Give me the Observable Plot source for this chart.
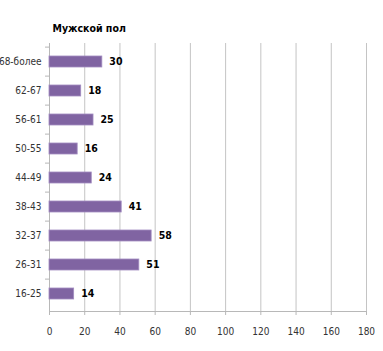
<!DOCTYPE html>
<html><head><meta charset="utf-8">
<script src="https://cdn.jsdelivr.net/npm/d3@7"></script>
<script src="https://cdn.jsdelivr.net/npm/@observablehq/plot@0.6"></script>
<style>
body{margin:0;background:#fff;}
#chart svg, #chart svg text{font-family:"DejaVu Sans Condensed","DejaVu Sans","Liberation Sans Narrow",sans-serif !important;font-stretch:condensed;}
</style>
</head><body><div id="chart"></div>
<script>
const title = "Мужской пол";
const categories = ["68-более","62-67","56-61","50-55","44-49","38-43","32-37","26-31","16-25"];
const values = [30,18,25,16,24,41,58,51,14];
const xTicks = [0,20,40,60,80,100,120,140,160,180];

const data = categories.map((c,i)=>({cat:c, v:values[i]}));
const step = (351-43-40)/categories.length;

const plot = Plot.plot({
  width:383, height:351,
  marginLeft:49, marginRight:17, marginTop:43, marginBottom:40,
  style:{fontSize:"10px", color:"#333", background:"#fff"},
  x:{domain:[0,180], label:null},
  y:{domain:categories, padding:0, label:null},
  marks:[
    Plot.ruleX(xTicks,{stroke:"#c4c4c4", strokeWidth:1}),
    Plot.frame({anchor:"bottom", stroke:"#b8b8b8"}),
    Plot.ruleX([0],{stroke:"#b8b8b8"}),
    Plot.axisX({ticks:xTicks, tickSize:4, tickPadding:12, stroke:"#b8b8b8", color:"#333", fontSize:10, label:null}),
    Plot.axisY({tickSize:0, tickPadding:8, color:"#333", fontSize:10, label:null}),
    Plot.axisY({tickSize:4, dy:-step/2, tickFormat:()=>"", stroke:"#b8b8b8", label:null}),
    Plot.barX(data,{x:"v", y:"cat", fill:"#8064A2", stroke:"#a28cc0", strokeWidth:0.8, insetTop:9, insetBottom:9}),
    Plot.text(data,{x:"v", y:"cat", text:d=>String(d.v), textAnchor:"start", dx:7, fontWeight:"bold", fontSize:10.5, fill:"#000"}),
    Plot.text([title],{frameAnchor:"top-left", text:d=>d, dx:3, dy:-19, fontWeight:"bold", fontSize:10.5, fill:"#000"})
  ]
});
document.getElementById("chart").append(plot);
</script>
</body></html>
